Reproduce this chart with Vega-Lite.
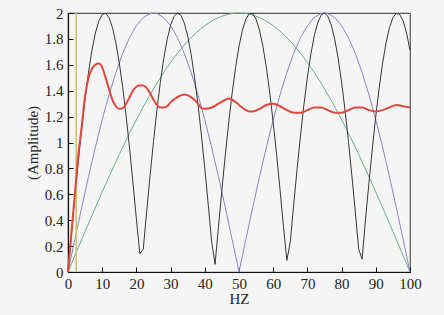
{
  "$schema": "https://vega.github.io/schema/vega-lite/v6.json",
  "width": 342,
  "height": 259,
  "autosize": {"type": "none"},
  "padding": {"left": 68, "top": 13, "right": 34, "bottom": 43},
  "background": "#f5f5f5",
  "config": {
    "view": {"stroke": "#555", "strokeWidth": 1.2, "fill": "#f5f5f5"},
    "axis": {
      "labelFont": "Liberation Serif, Times New Roman, serif", "titleFont": "Liberation Serif, Times New Roman, serif",
      "labelFontSize": 15, "titleFontSize": 15, "titleFontWeight": "normal",
      "labelColor": "#222", "titleColor": "#222",
      "domainColor": "#111", "tickColor": "#111", "grid": false,
      "tickSize": -5, "domainWidth": 1.2
    }
  },
  "datasets": {
    "green": [
      {"x":0,"y":0},{"x":5,"y":0.313},{"x":10,"y":0.618},{"x":15,"y":0.908},{"x":20,"y":1.176},{"x":25,"y":1.414},{"x":30,"y":1.618},{"x":35,"y":1.782},{"x":40,"y":1.902},{"x":45,"y":1.975},{"x":50,"y":2},{"x":55,"y":1.975},{"x":60,"y":1.902},{"x":65,"y":1.782},{"x":70,"y":1.618},{"x":75,"y":1.414},{"x":80,"y":1.176},{"x":85,"y":0.908},{"x":90,"y":0.618},{"x":95,"y":0.313},{"x":100,"y":0}
    ],
    "blue": [
      {"x":0,"y":0},{"x":2,"y":0.251},{"x":4,"y":0.497},{"x":6,"y":0.736},{"x":8,"y":0.964},{"x":10,"y":1.176},{"x":12,"y":1.369},{"x":14,"y":1.541},{"x":16,"y":1.689},{"x":18,"y":1.81},{"x":20,"y":1.902},{"x":22,"y":1.965},{"x":24,"y":1.996},{"x":25,"y":2},{"x":26,"y":1.996},{"x":28,"y":1.965},{"x":30,"y":1.902},{"x":32,"y":1.81},{"x":34,"y":1.689},{"x":36,"y":1.541},{"x":38,"y":1.369},{"x":40,"y":1.176},{"x":42,"y":0.964},{"x":44,"y":0.736},{"x":46,"y":0.497},{"x":48,"y":0.251},{"x":50,"y":0},{"x":52,"y":0.251},{"x":54,"y":0.497},{"x":56,"y":0.736},{"x":58,"y":0.964},{"x":60,"y":1.176},{"x":62,"y":1.369},{"x":64,"y":1.541},{"x":66,"y":1.689},{"x":68,"y":1.81},{"x":70,"y":1.902},{"x":72,"y":1.965},{"x":74,"y":1.996},{"x":75,"y":2},{"x":76,"y":1.996},{"x":78,"y":1.965},{"x":80,"y":1.902},{"x":82,"y":1.81},{"x":84,"y":1.689},{"x":86,"y":1.541},{"x":88,"y":1.369},{"x":90,"y":1.176},{"x":92,"y":0.964},{"x":94,"y":0.736},{"x":96,"y":0.497},{"x":98,"y":0.251},{"x":100,"y":0}
    ],
    "black": [
      {"x":0,"y":0},{"x":1,"y":0.293},{"x":2,"y":0.579},{"x":3,"y":0.853},{"x":4,"y":1.108},{"x":5,"y":1.34},{"x":6,"y":1.543},{"x":7,"y":1.712},{"x":8,"y":1.845},{"x":9,"y":1.938},{"x":10,"y":1.989},{"x":11,"y":1.998},{"x":12,"y":1.964},{"x":13,"y":1.887},{"x":14,"y":1.77},{"x":15,"y":1.614},{"x":16,"y":1.424},{"x":17,"y":1.204},{"x":18,"y":0.957},{"x":19,"y":0.69},{"x":20,"y":0.408},{"x":21,"y":0.14},{"x":22,"y":0.176},{"x":23,"y":0.466},{"x":24,"y":0.745},{"x":25,"y":1.008},{"x":26,"y":1.25},{"x":27,"y":1.465},{"x":28,"y":1.648},{"x":29,"y":1.796},{"x":30,"y":1.906},{"x":31,"y":1.974},{"x":32,"y":2.0},{"x":33,"y":1.983},{"x":34,"y":1.923},{"x":35,"y":1.821},{"x":36,"y":1.681},{"x":37,"y":1.504},{"x":38,"y":1.295},{"x":39,"y":1.059},{"x":40,"y":0.799},{"x":41,"y":0.522},{"x":42,"y":0.234},{"x":43,"y":0.059},{"x":44,"y":0.35},{"x":45,"y":0.635},{"x":46,"y":0.905},{"x":47,"y":1.157},{"x":48,"y":1.383},{"x":49,"y":1.579},{"x":50,"y":1.742},{"x":51,"y":1.867},{"x":52,"y":1.952},{"x":53,"y":1.995},{"x":54,"y":1.995},{"x":55,"y":1.952},{"x":56,"y":1.867},{"x":57,"y":1.742},{"x":58,"y":1.579},{"x":59,"y":1.383},{"x":60,"y":1.156},{"x":61,"y":0.906},{"x":62,"y":0.635},{"x":63,"y":0.35},{"x":64,"y":0.09},{"x":65,"y":0.234},{"x":66,"y":0.522},{"x":67,"y":0.799},{"x":68,"y":1.059},{"x":69,"y":1.295},{"x":70,"y":1.505},{"x":71,"y":1.681},{"x":72,"y":1.822},{"x":73,"y":1.923},{"x":74,"y":1.983},{"x":75,"y":2.0},{"x":76,"y":1.974},{"x":77,"y":1.906},{"x":78,"y":1.796},{"x":79,"y":1.648},{"x":80,"y":1.465},{"x":81,"y":1.25},{"x":82,"y":1.009},{"x":83,"y":0.745},{"x":84,"y":0.466},{"x":85,"y":0.176},{"x":86,"y":0.1},{"x":87,"y":0.408},{"x":88,"y":0.69},{"x":89,"y":0.957},{"x":90,"y":1.204},{"x":91,"y":1.424},{"x":92,"y":1.614},{"x":93,"y":1.77},{"x":94,"y":1.887},{"x":95,"y":1.964},{"x":96,"y":1.998},{"x":97,"y":1.989},{"x":98,"y":1.938},{"x":99,"y":1.845},{"x":100,"y":1.712}
    ],
    "red": [
      {"x":0,"y":0},{"x":1,"y":0.3},{"x":2,"y":0.6},{"x":3,"y":0.9},{"x":4,"y":1.12},{"x":5,"y":1.36},{"x":6,"y":1.5},{"x":7,"y":1.57},{"x":8,"y":1.6},{"x":9,"y":1.61},{"x":10,"y":1.58},{"x":11,"y":1.5},{"x":12,"y":1.41},{"x":13,"y":1.33},{"x":14,"y":1.28},{"x":15,"y":1.26},{"x":16,"y":1.265},{"x":17,"y":1.3},{"x":18,"y":1.35},{"x":19,"y":1.4},{"x":20,"y":1.43},{"x":21,"y":1.44},{"x":22,"y":1.44},{"x":23,"y":1.42},{"x":24,"y":1.38},{"x":25,"y":1.33},{"x":26,"y":1.29},{"x":27,"y":1.27},{"x":28,"y":1.27},{"x":29,"y":1.28},{"x":30,"y":1.31},{"x":32,"y":1.35},{"x":34,"y":1.37},{"x":36,"y":1.35},{"x":38,"y":1.3},{"x":39,"y":1.265},{"x":40,"y":1.26},{"x":42,"y":1.27},{"x":44,"y":1.3},{"x":46,"y":1.33},{"x":47,"y":1.34},{"x":48,"y":1.33},{"x":50,"y":1.29},{"x":52,"y":1.25},{"x":53,"y":1.24},{"x":54,"y":1.24},{"x":56,"y":1.26},{"x":58,"y":1.29},{"x":60,"y":1.3},{"x":62,"y":1.28},{"x":64,"y":1.25},{"x":66,"y":1.23},{"x":68,"y":1.23},{"x":70,"y":1.25},{"x":72,"y":1.27},{"x":74,"y":1.27},{"x":76,"y":1.25},{"x":78,"y":1.23},{"x":80,"y":1.23},{"x":82,"y":1.25},{"x":84,"y":1.27},{"x":86,"y":1.27},{"x":88,"y":1.25},{"x":90,"y":1.24},{"x":92,"y":1.25},{"x":94,"y":1.27},{"x":96,"y":1.29},{"x":98,"y":1.28},{"x":100,"y":1.27}
    ],
    "yellow": [{"x":2.4}]
  },
  "encoding": {
    "x": {"field": "x", "type": "quantitative", "title": "HZ",
      "scale": {"domain": [0, 100], "nice": false},
      "axis": {"values": [0,10,20,30,40,50,60,70,80,90,100], "labelPadding": 9, "titlePadding": 0, "labelFlush": false}},
    "y": {"field": "y", "type": "quantitative", "title": "(Amplitude)",
      "scale": {"domain": [0, 2], "nice": false},
      "axis": {"values": [0,0.2,0.4,0.6,0.8,1,1.2,1.4,1.6,1.8,2], "format": "~g", "labelPadding": 10, "titlePadding": 4, "labelFlush": false}}
  },
  "layer": [
    {"data": {"name": "green"}, "mark": {"type": "line", "color": "#6aae88", "strokeWidth": 1, "interpolate": "monotone"}},
    {"data": {"name": "blue"}, "mark": {"type": "line", "color": "#8585cc", "strokeWidth": 1}},
    {"data": {"name": "black"}, "mark": {"type": "line", "color": "#3a3434", "strokeWidth": 1}},
    {"data": {"name": "yellow"}, "mark": {"type": "rule", "color": "#cdc16a", "strokeWidth": 1.5}, "encoding": {"x": {"field": "x", "type": "quantitative"}, "y": null}},
    {"data": {"name": "red"}, "mark": {"type": "line", "color": "#e2463b", "strokeWidth": 2, "interpolate": "monotone"}}
  ]
}
